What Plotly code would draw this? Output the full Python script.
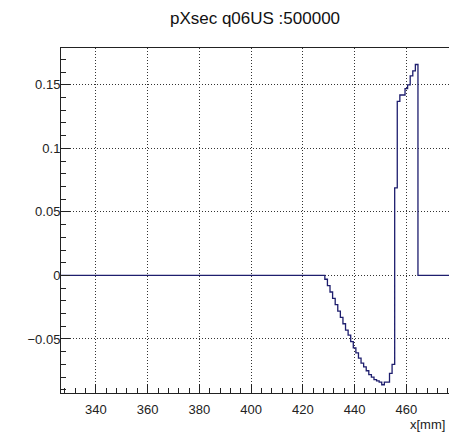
import plotly.graph_objects as go

# Histogram binning: 1 mm bins from 326.5 to 476.5 mm (bin centres 327..476)
bin_low = 326.5
bin_width = 1.0
n_bins = 150

# Non-zero section of the profile, keyed by bin centre [mm]
nonzero_centres = list(range(429, 465))
nonzero_values = [
    -0.003, -0.008, -0.013, -0.018, -0.023, -0.028, -0.033, -0.038,
    -0.043, -0.047, -0.052, -0.057, -0.061, -0.065, -0.069, -0.072,
    -0.075, -0.078, -0.080, -0.082, -0.083, -0.084, -0.086, -0.084,
    -0.084, -0.077, -0.070,
    0.069, 0.137, 0.142, 0.142, 0.147, 0.150, 0.157, 0.161, 0.166,
]

x_ticks = [340, 360, 380, 400, 420, 440, 460]
y_ticks = [-0.05, 0, 0.05, 0.1, 0.15]
y_ticktext = ["\u22120.05", "0", "0.05", "0.1", "0.15"]

title_text = "pXsec q06US :500000"
x_title = "x[mm]"

# Build the full bin contents
centres = [int(bin_low + bin_width * (i + 0.5)) for i in range(n_bins)]
lookup = dict(zip(nonzero_centres, nonzero_values))
contents = [lookup.get(c, 0.0) for c in centres]
edges = [bin_low + bin_width * i for i in range(n_bins + 1)]

# Step outline: each bin drawn flat from its low edge to its high edge
step_x = edges
step_y = contents + [contents[-1]]

axis_col = "#222222"
grid_col = "#333333"
grid_dash = "1px,2px"
font_family = "Liberation Sans, Arial, Helvetica, sans-serif"

fig = go.Figure()
fig.add_trace(go.Scatter(
    x=step_x, y=step_y, mode="lines", line_shape="hv",
    line=dict(color="#1e1e6e", width=1.3),
    hoverinfo="skip", showlegend=False,
))

fig.update_layout(
    width=449, height=436,
    margin=dict(l=61, r=0, t=48, b=43),
    paper_bgcolor="white", plot_bgcolor="white",
    font=dict(family=font_family, color=axis_col, size=13),
    title=dict(
        text=title_text, x=0.5, xref="paper", xanchor="center",
        y=1 - 18 / 436, yref="container", yanchor="middle",
        font=dict(size=17, color="#111111", family=font_family),
    ),
    showlegend=False,
)

fig.update_xaxes(
    range=[bin_low, bin_low + bin_width * n_bins],
    tickvals=x_ticks,
    ticks="inside", ticklen=9, tickwidth=1, tickcolor=axis_col,
    showline=True, linecolor=axis_col, linewidth=1, mirror=True,
    showgrid=True, gridcolor=grid_col, gridwidth=1, griddash=grid_dash,
    zeroline=False,
    minor=dict(ticks="inside", ticklen=5, tickcolor=axis_col,
               dtick=4, tick0=340, showgrid=False),
    tickfont=dict(size=13, color=axis_col),
    ticklabelstandoff=4,
)

fig.update_yaxes(
    range=[-0.0925, 0.179],
    tickvals=y_ticks, ticktext=y_ticktext,
    ticks="inside", ticklen=9, tickwidth=1, tickcolor=axis_col,
    showline=True, linecolor=axis_col, linewidth=1, mirror=False,
    showgrid=True, gridcolor=grid_col, gridwidth=1, griddash=grid_dash,
    zeroline=False,
    minor=dict(ticks="inside", ticklen=5, tickcolor=axis_col,
               dtick=0.01, tick0=0, showgrid=False),
    tickfont=dict(size=13, color=axis_col),
    ticklabelstandoff=-3,
)

fig.add_annotation(
    text=x_title, xref="paper", yref="paper", x=1, y=0,
    xanchor="right", yanchor="middle", xshift=-2, yshift=-31,
    showarrow=False, font=dict(size=13, color=axis_col),
)

fig.write_html("out.html")
